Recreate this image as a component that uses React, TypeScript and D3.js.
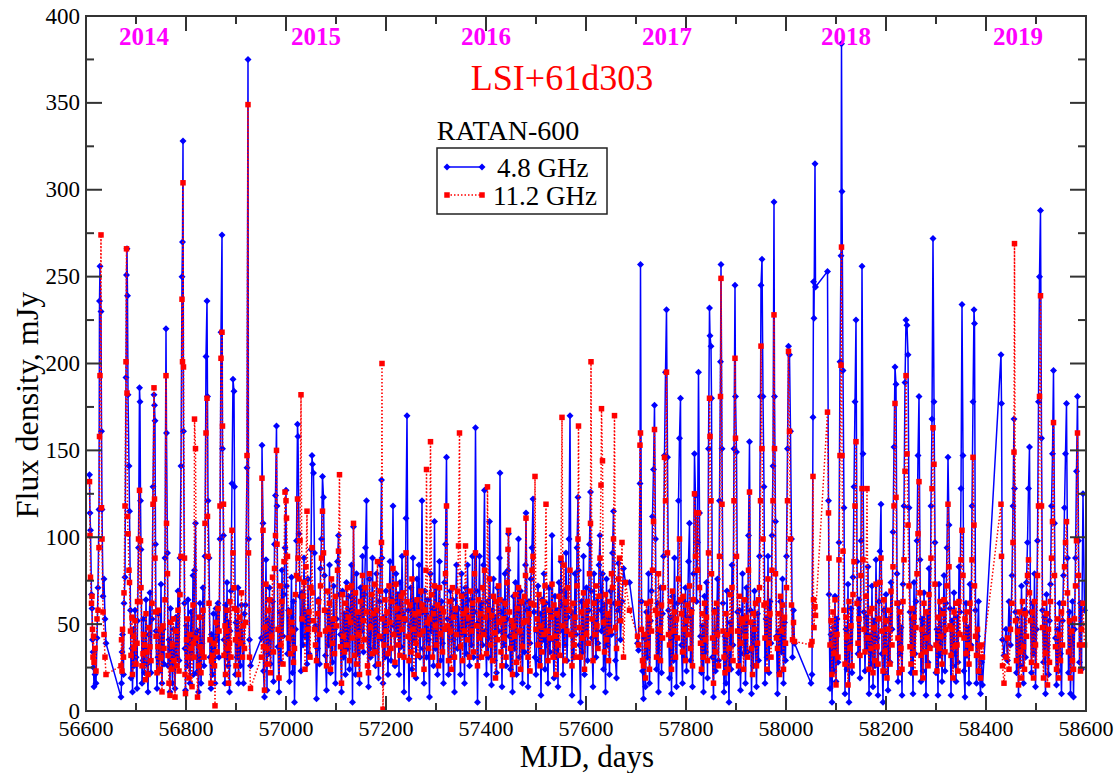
import React from 'react';
import * as d3 from 'd3';

// each row: MJD, flux at 4.8 GHz (mJy), flux at 11.2 GHz (mJy)
type Row = [number, number, number];

const season2014a: Row[] = [
  [56607,136,132],[56608,114,101],[56609,104,77],[56611,67,62],[56612,59,66],[56613,41,47],[56614,34,31],[56615,25,43],
  [56616,14,28],[56618,21,36],[56620,16,23],[56622,42,53],[56624,71,58],[56626,116,94],[56627,236,158],[56628,256,193],
  [56630,230,274],[56631,161,117],[56632,116,99],[56634,66,57],[56636,76,44],[56638,53,31],[56640,39,21],
];

const season2014b: Row[] = [
  [56670,8,26],[56671,16,41],[56672,34,23],[56673,44,47],[56675,21,31],[56676,62,68],[56678,77,118],[56680,192,201],
  [56681,251,266],[56682,266,183],[56683,239,112],[56684,182,102],[56686,141,81],[56687,115,74],[56689,58,46],[56690,19,32],
  [56692,36,54],[56693,11,21],[56695,47,43],[56696,26,36],[56698,58,52],[56700,31,27],[56702,13,39],[56703,52,63],
  [56705,94,99],[56707,186,127],[56708,178,63],[56709,121,98],[56710,93,71],[56712,16,26],[56714,29,33],[56715,53,44],
  [56717,22,38],[56719,36,18],[56720,64,56],[56722,27,34],[56724,11,21],[56726,44,48],[56728,68,37],[56730,22,29],
  [56732,53,62],[56734,129,119],[56736,182,186],[56737,176,122],[56738,167,88],[56739,96,57],[56740,46,43],[56742,13,22],
  [56744,31,37],[56745,56,58],[56747,23,24],[56749,42,47],[56750,73,31],[56752,16,11],[56754,47,49],[56756,27,36],
  [56758,88,64],[56760,220,193],[56761,160,108],[56763,91,79],[56764,26,32],[56766,41,16],[56768,11,9],[56769,59,51],
  [56771,32,24],[56773,16,38],[56775,47,53],[56776,36,29],[56778,13,8],[56780,54,46],[56782,31,26],[56784,69,58],
  [56786,29,23],[56788,88,67],[56790,141,89],[56792,250,237],[56793,270,201],[56794,328,304],[56795,161,198],[56797,62,88],
  [56798,36,21],[56799,12,10],[56801,49,41],[56803,26,53],[56804,64,31],[56806,41,19],[56808,16,44],[56810,57,36],
  [56812,31,14],[56814,78,61],[56815,21,39],[56816,44,31],[56817,81,168],[56819,108,151],[56821,22,42],[56823,46,8],
  [56825,11,26],[56827,31,54],[56828,62,37],[56830,16,22],[56832,39,34],[56834,71,58],[56836,26,31],[56838,89,108],
  [56840,204,160],[56842,236,180],[56843,181,112],[56844,121,89],[56846,88,62],[56848,31,41],[56850,13,16],[56851,44,29],
  [56853,21,32],[56855,56,39],[56857,31,26],[56858,16,3],[56860,59,51],[56862,41,34],[56864,62,59],[56866,31,46],
  [56868,99,118],[56870,218,203],[56872,274,218],[56873,151,164],[56875,101,119],[56876,41,32],[56878,16,49],[56879,61,21],
  [56881,31,46],[56882,74,58],[56884,26,36],[56885,51,16],[56887,11,39],[56888,46,63],[56890,69,31],[56892,131,104],
  [56894,191,91],[56896,184,71],[56897,129,59],[56899,21,41],[56900,51,26],[56902,31,58],[56904,71,44],[56905,16,21],
  [56907,46,54],[56909,26,39],[56911,61,68],[56913,39,31],[56915,16,49],[56917,56,36],[56919,61,51],[56922,140,147],
  [56924,375,349],[56925,99,91],[56927,41,31],[56929,26,13],
];

const season2015: Row[] = [
  [56951,42,31],[56952,153,134],[56954,108,104],[56955,23,37],[56957,8,12],[56958,43,48],[56960,87,73],[56962,12,36],
  [56963,52,27],[56965,33,58],[56967,71,64],[56969,27,22],[56971,48,43],[56973,63,77],[56975,17,34],[56977,96,82],
  [56979,124,101],[56981,164,150],[56982,118,96],[56984,37,47],[56986,11,19],[56988,57,72],[56990,28,38],[56992,81,63],
  [56994,43,27],[56996,67,86],[56998,94,126],[57000,127,121],[57001,72,111],[57003,33,89],[57005,58,42],[57007,17,57],
  [57009,42,33],[57011,77,51],[57013,22,46],[57015,63,28],[57017,5,36],[57019,47,67],[57021,98,78],[57023,165,122],
  [57024,158,88],[57026,102,76],[57028,66,98],[57030,23,182],[57032,68,53],[57034,38,66],[57036,88,74],[57038,43,24],
  [57040,57,83],[57042,27,115],[57044,76,47],[57046,33,57],[57048,52,31],[57050,93,71],[57052,147,94],[57053,142,68],
  [57055,137,52],[57057,91,47],[57059,49,38],[57061,7,29],[57063,36,56],[57065,64,63],[57067,27,44],[57069,82,72],
  [57071,99,88],[57073,135,115],[57075,123,91],[57077,78,58],[57079,32,46],[57081,12,26],[57083,57,69],[57085,38,47],
  [57087,84,62],[57089,22,24],[57091,51,76],[57093,28,39],[57095,72,53],[57097,47,33],[57099,16,66],[57101,53,49],
  [57103,86,81],[57105,101,92],[57107,67,136],[57109,44,37],[57111,11,16],[57113,69,67],[57115,31,43],[57117,56,34],
  [57119,21,62],[57121,74,38],[57123,36,71],[57125,66,54],[57127,24,29],[57129,58,51],[57131,84,72],[57133,5,42],
  [57135,106,108],[57137,53,32],[57139,21,68],[57141,79,27],[57143,33,57],[57145,54,44],[57147,16,21],[57149,71,63],
  [57151,46,37],[57153,89,78],[57155,34,52],[57157,67,41],[57159,94,71],[57161,121,57],[57163,41,26],[57165,14,22],
  [57167,76,79],[57169,31,48],[57171,49,67],[57173,88,33],[57175,36,56],[57177,57,73],[57179,26,34],[57181,79,58],
  [57183,44,86],[57185,19,27],[57187,63,43],[57189,84,69],[57191,133,97],[57192,88,200],[57193,41,53],[57194,16,1],
  [57196,54,38],[57198,31,64],[57200,69,46],[57202,46,57],[57204,21,33],[57206,57,72],[57208,86,51],[57210,29,36],
  [57212,64,63],[57214,118,82],[57216,49,44],[57218,26,28],[57220,79,73],[57222,44,59],[57224,67,38],[57226,21,54],
  [57228,74,32],[57230,37,66],[57232,89,47],[57234,56,68],[57236,11,31],[57238,52,53],[57240,111,91],[57242,170,63],
  [57244,58,43],[57246,7,29],[57248,49,61],[57250,71,34],[57252,24,76],[57254,88,47],[57256,41,21],[57258,63,56],
  [57260,19,39],[57262,76,64],[57264,44,32],[57266,84,57],[57268,31,44],[57270,57,69],[57272,121,61],[57274,36,46],
  [57276,16,24],[57278,69,58],[57280,56,81],[57281,31,139],[57283,64,51],[57285,41,36],[57287,8,53],[57289,79,155],
  [57291,46,67],[57293,59,31],[57295,26,56],[57297,109,72],[57299,36,49],[57301,71,38],[57303,21,61],[57305,54,26],
  [57307,86,71],[57309,29,44],[57311,63,59],[57313,39,34],[57315,16,57],[57317,74,47],[57319,96,79],[57321,146,118],
  [57323,53,49],[57325,21,29],[57327,49,63],[57329,69,46],[57331,31,24],[57333,64,71],[57335,41,54],[57337,11,31],
  [57339,56,59],[57341,84,44],[57343,36,69],[57345,59,95],[57347,46,160],[57349,21,37],[57351,79,66],[57353,44,29],
  [57355,67,56],[57357,16,46],[57359,71,95],[57361,33,58],[57363,84,41],[57365,51,54],[57367,26,31],[57369,64,69],
  [57371,38,46],[57373,89,62],[57375,31,34],[57377,57,79],[57379,163,91],[57381,69,49],[57383,5,26],[57385,51,64],
  [57387,89,42],[57389,31,56],[57391,62,31],[57393,38,71],[57395,84,44],[57397,127,81],[57399,46,54],[57401,21,33],
];

const season2016: Row[] = [
  [57403,63,129],[57405,31,58],[57407,109,76],[57409,42,38],[57411,15,55],[57413,58,29],[57415,76,66],[57417,29,45],
  [57419,54,19],[57421,22,63],[57423,71,41],[57425,46,72],[57427,88,51],[57428,137,64],[57430,57,34],[57432,14,26],
  [57434,63,53],[57436,38,42],[57438,79,62],[57440,26,31],[57442,53,74],[57444,81,93],[57445,102,104],[57447,43,57],
  [57449,24,36],[57451,49,52],[57453,11,21],[57455,66,49],[57457,36,43],[57459,74,67],[57461,21,28],[57463,57,59],
  [57465,99,71],[57467,31,46],[57469,69,24],[57471,44,63],[57473,16,37],[57475,62,51],[57477,34,66],[57479,84,78],
  [57480,114,111],[57482,58,52],[57484,14,31],[57486,63,56],[57488,39,23],[57490,76,62],[57492,94,81],[57494,122,89],
  [57496,57,61],[57498,31,135],[57500,21,47],[57502,46,53],[57504,72,38],[57506,29,67],[57508,56,26],[57510,9,49],
  [57512,64,34],[57514,41,63],[57516,79,44],[57518,24,72],[57520,62,119],[57522,38,46],[57524,16,29],[57526,71,58],
  [57528,34,42],[57530,57,54],[57532,101,73],[57534,41,31],[57536,19,61],[57538,66,43],[57540,31,21],[57542,58,56],
  [57544,14,38],[57546,74,66],[57548,46,32],[57550,86,88],[57552,61,169],[57554,21,49],[57556,69,84],[57558,38,29],
  [57560,91,63],[57562,29,46],[57564,54,71],[57566,99,58],[57568,170,81],[57570,57,44],[57572,9,26],[57574,56,62],
  [57576,31,38],[57578,79,54],[57580,44,31],[57582,94,72],[57584,123,99],[57585,81,164],[57587,38,48],[57589,5,31],
  [57591,63,57],[57593,34,42],[57595,89,68],[57597,21,24],[57599,46,61],[57601,71,44],[57603,29,63],[57605,58,39],
  [57607,96,79],[57609,126,108],[57610,69,201],[57612,42,53],[57614,14,29],[57616,79,62],[57618,51,44],[57620,31,72],
  [57622,63,49],[57624,39,36],[57626,84,66],[57628,101,88],[57630,58,130],[57631,46,174],[57633,79,144],[57635,24,51],
  [57637,61,34],[57639,11,67],[57641,76,41],[57643,38,56],[57645,54,29],[57647,21,63],[57649,69,46],[57651,44,79],
  [57653,91,71],[57655,115,99],[57657,62,170],[57659,29,48],[57661,19,36],[57663,58,62],[57665,85,76],[57667,61,88],
  [57669,41,52],[57672,63,97],[57675,82,31],[57679,74,74],[57687,74,58],
];

const season2017: Row[] = [
  [57703,39,43],[57705,35,38],[57708,131,153],[57709,257,160],[57711,63,47],[57713,23,29],[57715,7,26],[57717,42,44],
  [57719,14,19],[57721,57,62],[57723,31,38],[57725,79,54],[57727,16,24],[57729,52,63],[57731,69,46],[57733,112,81],
  [57735,139,109],[57737,176,162],[57739,99,58],[57741,24,31],[57743,62,56],[57745,11,79],[57747,44,47],[57749,71,29],
  [57751,22,61],[57753,56,42],[57755,89,71],[57757,147,146],[57759,195,121],[57761,231,195],[57763,146,91],[57765,58,44],
  [57767,19,38],[57769,54,63],[57771,10,24],[57773,66,69],[57775,29,46],[57777,88,57],[57779,43,31],[57781,14,53],
  [57783,62,42],[57785,121,76],[57787,157,99],[57789,180,64],[57791,38,56],[57793,16,34],[57795,63,66],[57797,31,47],
  [57799,71,29],[57801,23,52],[57803,54,61],[57805,86,44],[57807,108,72],[57809,29,36],[57811,58,57],[57813,14,26],
  [57815,79,64],[57817,148,125],[57819,124,89],[57821,63,114],[57823,97,81],[57825,195,114],[57827,114,71],[57829,43,39],
  [57831,22,24],[57833,49,56],[57835,11,31],[57837,66,62],[57839,34,41],[57841,74,54],[57843,19,29],[57845,151,91],
  [57847,232,180],[57848,216,158],[57850,210,121],[57851,180,79],[57853,31,42],[57855,8,16],[57857,58,57],[57859,23,34],
  [57861,46,62],[57863,76,44],[57865,29,26],[57867,121,89],[57869,201,181],[57870,257,249],[57872,151,119],[57874,62,46],
  [57876,11,31],[57878,43,22],[57880,16,56],[57882,69,44],[57884,31,24],[57886,5,36],[57888,51,67],[57890,24,46],
  [57892,84,71],[57894,38,29],[57896,151,121],[57898,245,203],[57899,181,157],[57901,149,89],[57903,57,46],[57905,22,26],
  [57907,58,66],[57909,12,39],[57911,46,53],[57913,79,51],[57915,33,24],[57917,54,64],[57919,16,43],[57921,71,54],
  [57923,34,31],[57925,101,81],[57927,155,126],[57929,58,51],[57931,10,36],[57933,51,21],[57935,26,56],[57937,69,47],
  [57939,38,62],[57941,14,26],[57943,56,39],[57945,29,64],[57947,89,71],[57949,181,121],[57950,245,210],[57952,260,151],
  [57954,181,99],[57956,129,61],[57958,16,42],[57960,53,62],[57962,31,24],[57964,89,76],[57966,22,39],[57968,63,56],
  [57970,39,31],[57972,101,81],[57974,141,121],[57976,293,228],[57977,181,151],[57979,109,79],[57981,43,42],[57983,10,36],
  [57985,46,56],[57987,22,21],[57989,63,66],[57991,34,46],[57993,76,61],[57995,16,24],[57997,51,54],[57999,29,39],
  [58001,89,71],[58003,151,121],[58005,210,207],[58007,205,161],[58009,161,99],[58011,99,61],[58013,31,41],[58015,58,51],
  [58017,39,40],
];

const autumn2017: Row[] = [
  [58050,16,38],[58052,21,40],[58054,169,135],[58055,247,64],[58056,226,48],[58058,315,60],[58059,244,55],
];

const season2018: Row[] = [
  [58083,253,172],[58085,121,114],[58086,67,88],[58088,13,38],[58090,44,52],[58092,5,21],[58094,48,57],[58096,23,33],
  [58098,66,64],[58100,17,15],[58102,53,44],[58104,28,31],[58106,97,87],[58108,201,147],[58110,262,199],[58111,384,267],
  [58112,299,147],[58114,196,92],[58116,117,58],[58118,10,27],[58120,47,54],[58122,24,43],[58124,73,15],[58126,5,63],
  [58128,38,36],[58130,59,49],[58132,22,26],[58134,77,67],[58136,129,86],[58138,178,118],[58140,225,155],[58142,86,62],
  [58144,33,39],[58146,64,53],[58148,19,32],[58150,98,78],[58152,256,128],[58154,148,87],[58156,57,47],[58158,23,34],
  [58160,54,66],[58162,36,128],[58164,83,42],[58166,10,24],[58168,43,57],[58170,27,36],[58172,72,59],[58174,14,22],
  [58176,52,48],[58178,26,29],[58180,87,73],[58182,42,37],[58184,9,27],[58186,63,53],[58188,92,74],[58190,119,88],
  [58192,33,46],[58194,5,23],[58196,58,64],[58198,22,34],[58200,67,52],[58202,37,19],[58204,12,47],[58206,53,58],
  [58208,28,27],[58210,74,69],[58212,47,38],[58214,103,83],[58216,152,118],[58218,198,177],[58220,188,123],[58222,79,62],
  [58224,17,42],[58226,62,22],[58228,33,57],[58230,48,36],[58232,9,24],[58234,73,63],[58236,118,87],[58238,189,138],
  [58240,225,193],[58242,222,148],[58244,205,107],[58246,117,72],[58248,57,37],[58250,22,27],[58252,53,59],[58254,10,33],
  [58256,74,54],[58258,33,22],[58260,63,48],[58262,98,79],[58264,147,102],[58266,181,132],[58268,87,68],[58270,17,32],
  [58272,53,47],[58274,23,19],[58276,68,62],[58278,43,34],[58280,9,57],[58282,57,42],[58284,28,26],[58286,82,67],
  [58288,37,36],[58290,118,88],[58292,168,128],[58294,272,163],[58296,178,142],[58298,97,73],[58300,22,38],[58302,47,23],
  [58304,9,54],[58306,73,36],[58308,32,63],[58310,58,43],[58312,17,27],[58314,43,56],[58316,78,64],[58318,23,34],
  [58320,62,47],[58322,94,72],[58324,146,119],[58326,107,83],[58328,59,49],[58330,9,32],[58332,52,47],[58334,26,19],
  [58336,68,57],[58338,33,37],[58340,17,62],[58342,54,38],[58344,28,23],[58346,83,63],[58348,57,44],[58350,128,87],
  [58352,234,104],[58354,147,78],[58356,23,42],[58358,8,53],[58360,62,33],[58362,32,57],[58364,48,38],[58366,16,27],
  [58368,73,62],[58370,38,36],[58372,118,87],[58374,178,146],[58376,231,107],[58377,223,72],[58379,58,43],[58381,16,32],
  [58383,43,47],[58385,63,23],[58387,22,37],[58389,10,19],[58391,28,38],[58393,15,31],
];

const season2019: Row[] = [
  [58430,205,119],[58431,177,89],[58433,41,26],[58436,32,16],[58440,47,31],[58443,29,42],[58446,63,24],[58449,38,47],
  [58452,78,62],[58454,118,97],[58456,168,149],[58457,128,269],[58459,57,52],[58461,22,29],[58463,53,46],[58465,9,15],
  [58467,47,57],[58469,26,34],[58471,72,19],[58473,38,63],[58475,16,37],[58477,58,24],[58479,31,56],[58481,74,43],
  [58483,97,78],[58485,128,87],[58487,152,68],[58489,57,52],[58491,22,28],[58493,62,57],[58495,33,19],[58497,79,63],
  [58499,14,38],[58501,47,26],[58503,98,78],[58505,178,118],[58507,250,181],[58509,288,239],[58511,157,118],[58513,58,48],
  [58515,28,19],[58517,54,62],[58519,10,33],[58521,67,56],[58523,38,15],[58525,21,47],[58527,52,28],[58529,73,63],
  [58531,118,88],[58533,148,109],[58535,196,166],[58537,108,78],[58539,42,37],[58541,15,24],[58543,47,53],[58545,23,19],
  [58547,62,44],[58549,33,29],[58551,10,57],[58553,52,38],[58555,78,62],[58557,117,83],[58559,148,97],[58561,177,109],
  [58563,88,68],[58565,22,34],[58567,57,52],[58569,10,19],[58571,42,46],[58573,63,29],[58575,8,24],[58577,47,53],
  [58579,88,72],[58581,138,98],[58583,181,160],[58585,98,78],[58587,28,38],[58589,62,23],[58591,24,47],[58594,125,62],
  [58597,58,38],
];

const yearLabels = ['2014', '2015', '2016', '2017', '2018', '2019'];
const yearLabelMjd = [56716, 57060, 57400, 57762, 58120, 58464];
const xMajorTicks = [56600, 56800, 57000, 57200, 57400, 57600, 57800, 58000, 58200, 58400, 58600];
const xMinorTicks = [56700, 56900, 57100, 57300, 57500, 57700, 57900, 58100, 58300, 58500];
const yMajorTicks = [0, 50, 100, 150, 200, 250, 300, 350, 400];
const yMinorTicks = [25, 75, 125, 175, 225, 275, 325, 375];

const SERIF = "'Liberation Serif', 'DejaVu Serif', serif";
const BLUE = '#0000ff';
const RED = '#ff0000';

function diamond(cx: number, cy: number, r: number) {
  return `M${cx},${cy - r}L${cx + r},${cy}L${cx},${cy + r}L${cx - r},${cy}Z`;
}

export default function App() {
  const rows: Row[] = [
    ...season2014a, ...season2014b, ...season2015, ...season2016,
    ...season2017, ...autumn2017, ...season2018, ...season2019,
  ];

  const x = d3.scaleLinear().domain([56600, 58600]).range([86, 1086]);
  const y = d3.scaleLinear().domain([0, 400]).range([711, 16]);

  const line48 = d3.line<Row>().x(d => x(d[0])).y(d => y(d[1]));
  const line112 = d3.line<Row>().x(d => x(d[0])).y(d => y(d[2]));

  const left = x.range()[0];
  const right = x.range()[1];
  const bottom = y.range()[0];
  const top = y.range()[1];

  return (
    <svg
      width={1115}
      height={773}
      style={{ position: 'absolute', left: 0, top: 0, background: '#fff' }}
      fontFamily={SERIF}
    >
      <rect width={1115} height={773} fill="#fff" />

      {/* 4.8 GHz */}
      <path d={line48(rows) || ''} fill="none" stroke={BLUE} strokeWidth={1.5} />
      {rows.map((d, i) => (
        <path key={'b' + i} d={diamond(x(d[0]), y(d[1]), 3.5)} fill={BLUE} />
      ))}

      {/* 11.2 GHz */}
      <path d={line112(rows) || ''} fill="none" stroke={RED} strokeWidth={1.5} strokeDasharray="1.5,2" />
      {rows.map((d, i) => (
        <rect key={'r' + i} x={x(d[0]) - 2.75} y={y(d[2]) - 2.75} width={5.5} height={5.5} fill={RED} />
      ))}

      {/* frame and ticks */}
      <rect x={left} y={top} width={right - left} height={bottom - top} fill="none" stroke="#333" strokeWidth={2} />
      {xMajorTicks.map(t => (
        <g key={'xM' + t}>
          <line x1={x(t)} x2={x(t)} y1={bottom} y2={bottom - 15} stroke="#333" strokeWidth={2} />
          <line x1={x(t)} x2={x(t)} y1={top} y2={top + 15} stroke="#333" strokeWidth={2} />
          <text x={x(t)} y={736} textAnchor="middle" fontSize={22} fill="#000">{t}</text>
        </g>
      ))}
      {xMinorTicks.map(t => (
        <g key={'xm' + t}>
          <line x1={x(t)} x2={x(t)} y1={bottom} y2={bottom - 8} stroke="#333" strokeWidth={2} />
          <line x1={x(t)} x2={x(t)} y1={top} y2={top + 8} stroke="#333" strokeWidth={2} />
        </g>
      ))}
      {yMajorTicks.map(t => (
        <g key={'yM' + t}>
          <line x1={left} x2={left + 16} y1={y(t)} y2={y(t)} stroke="#333" strokeWidth={2} />
          <line x1={right} x2={right - 16} y1={y(t)} y2={y(t)} stroke="#333" strokeWidth={2} />
          <text x={80} y={y(t)} dy="0.33em" textAnchor="end" fontSize={23} fill="#000">{t}</text>
        </g>
      ))}
      {yMinorTicks.map(t => (
        <g key={'ym' + t}>
          <line x1={left} x2={left + 8} y1={y(t)} y2={y(t)} stroke="#333" strokeWidth={2} />
          <line x1={right} x2={right - 8} y1={y(t)} y2={y(t)} stroke="#333" strokeWidth={2} />
        </g>
      ))}

      {/* axis titles */}
      <text x={587} y={767} textAnchor="middle" fontSize={31} fill="#000">MJD, days</text>
      <text transform="translate(38,405) rotate(-90)" textAnchor="middle" fontSize={32} fill="#000">
        Flux density, mJy
      </text>

      {/* year labels */}
      {yearLabels.map((lab, i) => (
        <text key={lab} x={x(yearLabelMjd[i])} y={45} textAnchor="middle" fontSize={25} fontWeight="bold" fill="#ff00ff">
          {lab}
        </text>
      ))}

      <text x={562} y={90} textAnchor="middle" fontSize={36} fill={RED}>LSI+61d303</text>
      <text x={508} y={140} textAnchor="middle" fontSize={28} fill="#000">RATAN-600</text>

      {/* legend */}
      <rect x={437} y={148} width={170} height={66} fill="#fff" stroke="#222" strokeWidth={1.5} />
      <line x1={447} x2={482} y1={167} y2={167} stroke={BLUE} strokeWidth={1.5} />
      <path d={diamond(447, 167, 3.5)} fill={BLUE} />
      <path d={diamond(482, 167, 3.5)} fill={BLUE} />
      <text x={497} y={177} fontSize={27} fill="#000">4.8 GHz</text>
      <line x1={447} x2={482} y1={195} y2={195} stroke={RED} strokeWidth={1.5} strokeDasharray="1.5,2" />
      <rect x={444.25} y={192.25} width={5.5} height={5.5} fill={RED} />
      <rect x={479.25} y={192.25} width={5.5} height={5.5} fill={RED} />
      <text x={493} y={205} fontSize={27} fill="#000">11.2 GHz</text>
    </svg>
  );
}
